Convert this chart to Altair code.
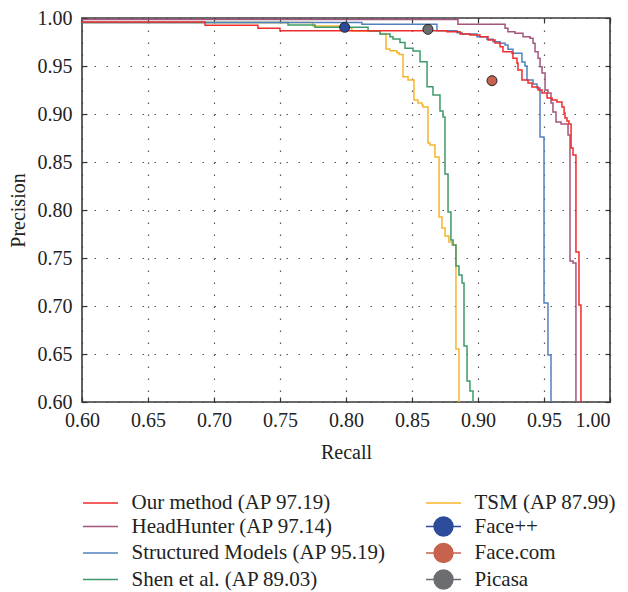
import altair as alt
import pandas as pd

# ---------------- data ----------------
legend_order = ["Our method (AP 97.19)", "HeadHunter (AP 97.14)",
                "Structured Models (AP 95.19)", "Shen et al. (AP 89.03)",
                "TSM (AP 87.99)", "Face++", "Face.com", "Picasa"]
legend_colors = ["#f02b2b", "#a3567e", "#5380bd", "#3e9a6c",
                 "#f7b52c", "#2d4b9b", "#c6624d", "#6c6d70"]
point_methods = ["Face++", "Face.com", "Picasa"]

our_recall = [0.6000, 0.6932, 0.7333, 0.7500, 0.8765, 0.8864, 0.8939, 0.9015, 0.9076, 0.9129,
              0.9167, 0.9189, 0.9258, 0.9265, 0.9295, 0.9303, 0.9333, 0.9379, 0.9409, 0.9455,
              0.9485, 0.9523, 0.9561, 0.9598, 0.9636, 0.9652, 0.9659, 0.9674, 0.9689, 0.9705,
              0.9720, 0.9742, 0.9765, 0.9780]
our_precision = [0.9958, 0.9924, 0.9893, 0.9868, 0.9857, 0.9833, 0.9823, 0.9805, 0.9771, 0.9740,
                 0.9701, 0.9649, 0.9632, 0.9580, 0.9531, 0.9458, 0.9354, 0.9323, 0.9281, 0.9250,
                 0.9219, 0.9167, 0.9146, 0.9125, 0.9073, 0.9010, 0.8958, 0.8927, 0.8896, 0.8646,
                 0.8573, 0.7563, 0.7010, 0.5813]

hh_recall = [0.6000, 0.8848, 0.9205, 0.9227, 0.9280, 0.9341, 0.9394, 0.9417, 0.9432, 0.9455,
             0.9470, 0.9485, 0.9508, 0.9530, 0.9553, 0.9568, 0.9591, 0.9629, 0.9682, 0.9697,
             0.9720, 0.9742]
hh_precision = [0.9984, 0.9934, 0.9893, 0.9857, 0.9841, 0.9805, 0.9789, 0.9736, 0.9649, 0.9580,
                0.9493, 0.9427, 0.9250, 0.9219, 0.9115, 0.9021, 0.8917, 0.8896, 0.8781, 0.7469,
                0.7448, 0.5813]

sm_recall = [0.6000, 0.8121, 0.8689, 0.8841, 0.8879, 0.8992, 0.9068, 0.9114, 0.9167, 0.9205,
             0.9227, 0.9265, 0.9333, 0.9356, 0.9371, 0.9417, 0.9447, 0.9470, 0.9500, 0.9530,
             0.9553]
sm_precision = [0.9953, 0.9934, 0.9868, 0.9847, 0.9833, 0.9805, 0.9778, 0.9753, 0.9736, 0.9719,
                0.9674, 0.9632, 0.9542, 0.9500, 0.9354, 0.9313, 0.9271, 0.8760, 0.7031, 0.6490,
                0.5813]

shen_recall = [0.6000, 0.7561, 0.7765, 0.8167, 0.8258, 0.8333, 0.8356, 0.8409, 0.8447, 0.8508,
               0.8561, 0.8614, 0.8659, 0.8712, 0.8735, 0.8750, 0.8773, 0.8795, 0.8811, 0.8833,
               0.8856, 0.8879, 0.8894, 0.8917, 0.8939, 0.8962]
shen_precision = [0.9953, 0.9927, 0.9903, 0.9865, 0.9833, 0.9805, 0.9781, 0.9745, 0.9684, 0.9656,
                  0.9545, 0.9284, 0.9198, 0.9031, 0.8969, 0.8375, 0.7979, 0.7688, 0.7635, 0.7417,
                  0.7323, 0.7240, 0.6583, 0.6219, 0.6115, 0.5813]

tsm_recall = [0.6000, 0.7750, 0.7955, 0.8045, 0.8258, 0.8303, 0.8333, 0.8386, 0.8402, 0.8432,
              0.8470, 0.8515, 0.8545, 0.8576, 0.8583, 0.8621, 0.8636, 0.8674, 0.8705, 0.8727,
              0.8750, 0.8780, 0.8803, 0.8833, 0.8856]
tsm_precision = [0.9953, 0.9917, 0.9899, 0.9865, 0.9830, 0.9677, 0.9659, 0.9639, 0.9620, 0.9389,
                 0.9354, 0.9146, 0.9115, 0.9094, 0.9073, 0.8698, 0.8677, 0.8552, 0.7927, 0.7813,
                 0.7729, 0.7667, 0.7635, 0.6552, 0.5813]

point_recall = [0.7990, 0.9106, 0.8621]
point_precision = [0.9903, 0.9347, 0.9882]

x_ticks = [0.60, 0.65, 0.70, 0.75, 0.80, 0.85, 0.90, 0.95, 1.00]
y_ticks = [0.60, 0.65, 0.70, 0.75, 0.80, 0.85, 0.90, 0.95, 1.00]

# ---------------- build ----------------
FONT = "Liberation Serif"
series = [
    ("TSM (AP 87.99)", tsm_recall, tsm_precision),
    ("Shen et al. (AP 89.03)", shen_recall, shen_precision),
    ("Structured Models (AP 95.19)", sm_recall, sm_precision),
    ("HeadHunter (AP 97.14)", hh_recall, hh_precision),
    ("Our method (AP 97.19)", our_recall, our_precision),
]

color_scale = alt.Scale(domain=legend_order, range=legend_colors)
x_scale = alt.Scale(domain=[0.6, 1.0], nice=False, zero=False)
y_scale = alt.Scale(domain=[0.6, 1.0], nice=False, zero=False)

main_x_axis = alt.Axis(values=x_ticks, format=".2f", title="Recall", offset=-5,
                       tickSize=5, domain=False, grid=True, labelPadding=8,
                       labelFlush=False, titlePadding=12,
                       labelAlign={"expr": "datum.value >= 0.999 ? 'right' : 'center'"})
main_y_axis = alt.Axis(values=y_ticks, format=".2f", title="Precision", offset=-5,
                       tickSize=5, domain=False, grid=True, labelPadding=10,
                       labelFlush=False, titlePadding=9)
top_axis = alt.Axis(values=x_ticks, orient="top", labels=False, title=None, offset=-5,
                    tickSize=5, domain=False, grid=False)
right_axis = alt.Axis(values=y_ticks, orient="right", labels=False, title=None, offset=-5,
                      tickSize=5, domain=False, grid=False)

circle_path = ("M-1.75,0H-0.95M0.95,0H1.75M-0.95,0A0.95,0.95 0 1,1 0.95,0"
               "A0.95,0.95 0 1,1 -0.95,0Z")
line_path = "M-1.75,0H1.75"
shape_expr = ("indexof(['Face++','Face.com','Picasa'], datum.value) >= 0 ? '"
              + circle_path + "' : '" + line_path + "'")

legend = alt.Legend(
    title=None, orient="none", legendX=7.5, legendY=474, columns=2,
    padding=0, symbolSize=400, symbolStrokeWidth=1.4,
    symbolType={"expr": shape_expr},
    symbolStrokeColor={"expr": "scale('color', datum.value)"},
    symbolFillColor={"expr": "scale('color', datum.value)"},
    labelFont=FONT, labelFontSize=21, labelColor="#222", labelOffset=20,
    rowPadding=0.5, columnPadding=36, labelLimit=400,
)

layers = []
for i, (name, rec, prec) in enumerate(series):
    df = pd.DataFrame({"recall": rec, "precision": prec, "method": name})
    layers.append(
        alt.Chart(df).mark_line(interpolate="step-after", strokeWidth=1.5, clip=True).encode(
            x=alt.X("recall:Q", scale=x_scale, axis=main_x_axis if i == 0 else None),
            y=alt.Y("precision:Q", scale=y_scale, axis=main_y_axis if i == 0 else None),
            color=alt.Color("method:N", scale=color_scale, legend=legend),
        )
    )

pts = pd.DataFrame({"recall": point_recall, "precision": point_precision,
                    "method": point_methods})

layers.append(
    alt.Chart(pts).mark_point(filled=True, shape="circle", size=100, stroke="#222",
                              strokeWidth=1, opacity=1).encode(
        x=alt.X("recall:Q", scale=x_scale, axis=top_axis),
        y=alt.Y("precision:Q", scale=y_scale, axis=right_axis),
        color=alt.Color("method:N", scale=color_scale, legend=legend),
    )
)

chart = alt.layer(*layers).resolve_axis(x="independent", y="independent").properties(
    width=528, height=384,
    padding={"left": 74, "top": 10, "right": 10, "bottom": 190},
    autosize=alt.AutoSizeParams(type="none"),
).configure_view(stroke="#3a3a3a", strokeWidth=1.6).configure_axis(
    labelFont=FONT, labelFontSize=20, labelColor="#222",
    titleFont=FONT, titleFontSize=20, titleFontWeight="normal", titleColor="#222",
    tickColor="#333", tickWidth=1.2,
    gridColor="#444", gridDash=[1.5, 10.5], gridWidth=1.2, gridOpacity=0.9,
)

chart.save("out.html", embed_options={"renderer": "svg", "actions": False})
